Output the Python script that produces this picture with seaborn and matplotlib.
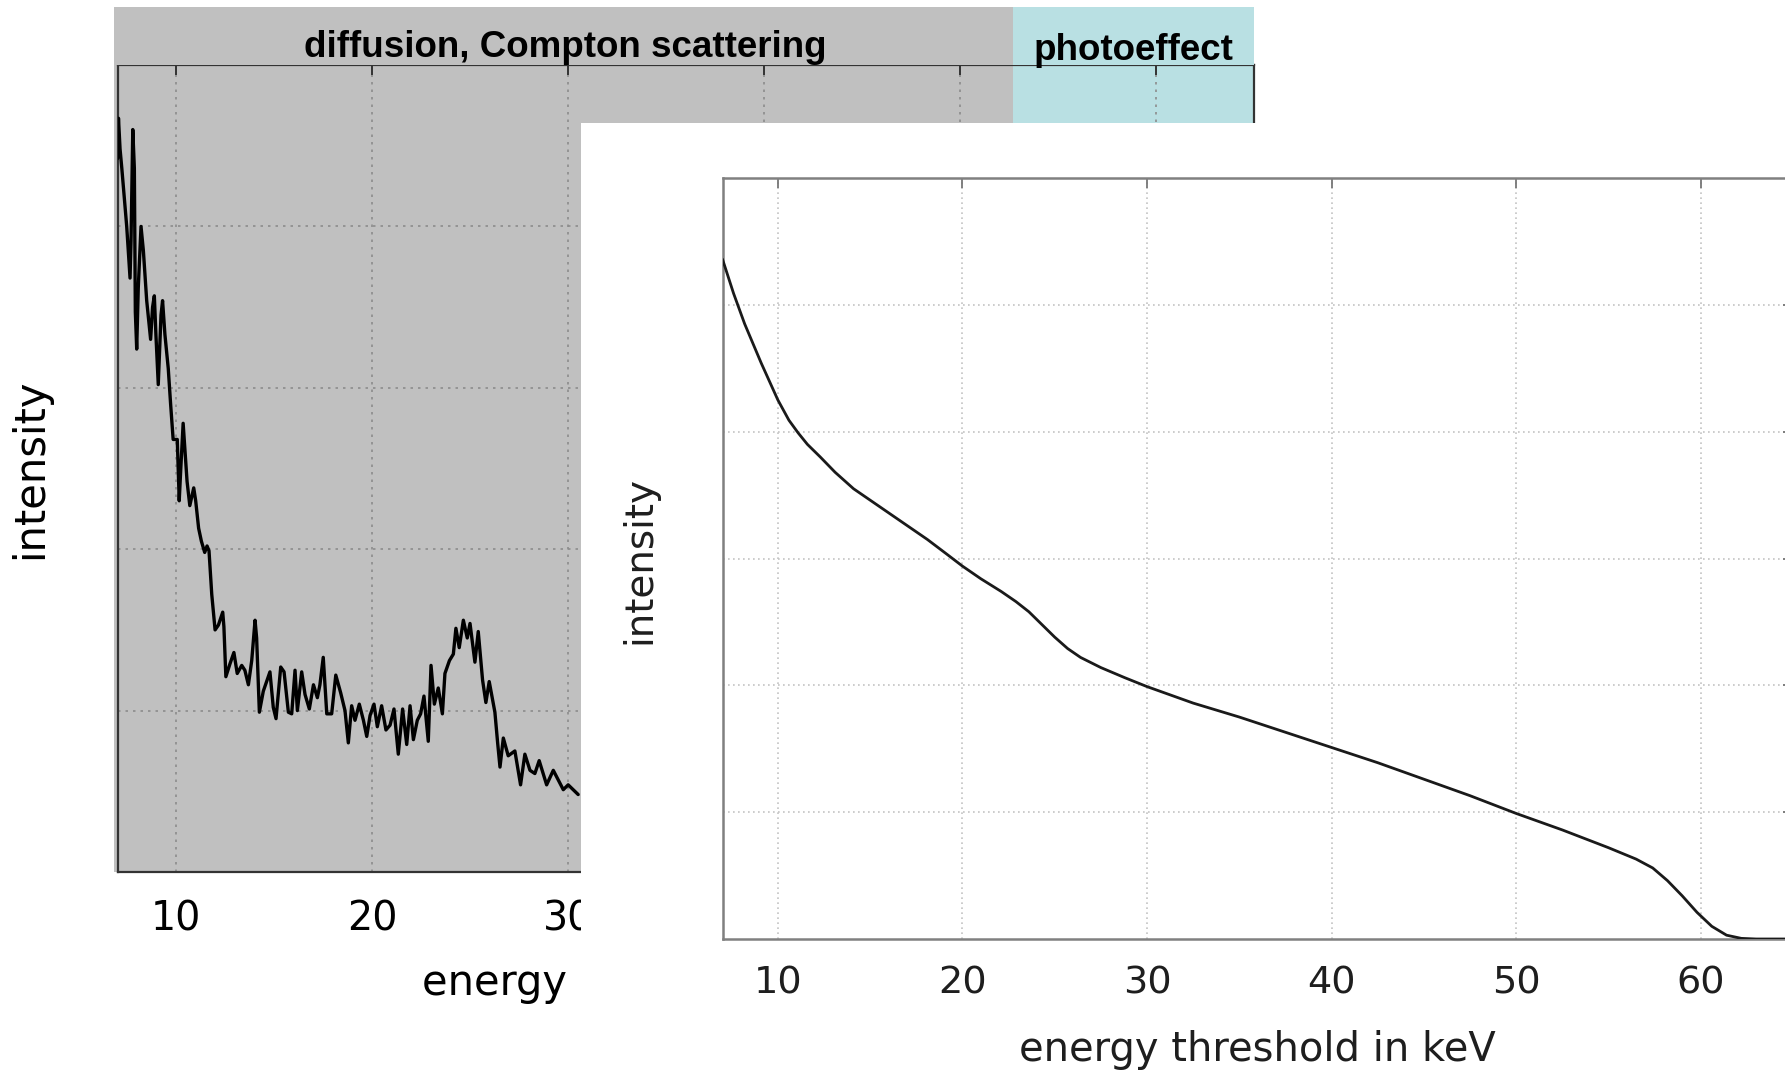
import matplotlib
matplotlib.use("Agg")
import matplotlib.pyplot as plt
import seaborn as sns

# ---------------- data ----------------
spectrum_energy = [7.00, 7.05, 7.13, 7.22, 7.47, 7.64, 7.69, 7.78, 7.86, 7.91,
                   7.98, 8.06, 8.20, 8.32, 8.49, 8.69, 8.79, 8.88, 8.96, 9.08,
                   9.22, 9.30, 9.42, 9.59, 9.71, 9.84, 10.05, 10.15, 10.23, 10.35,
                   10.47, 10.55, 10.69, 10.89, 10.99, 11.14, 11.28, 11.45, 11.57, 11.67,
                   11.74, 11.81, 11.98, 12.15, 12.37, 12.43, 12.53, 12.74, 12.94, 13.11,
                   13.34, 13.50, 13.68, 13.85, 14.02, 14.10, 14.24, 14.44, 14.78, 14.95,
                   15.09, 15.33, 15.50, 15.72, 15.89, 16.06, 16.18, 16.40, 16.57, 16.79,
                   17.00, 17.20, 17.33, 17.50, 17.68, 17.93, 18.14, 18.39, 18.61, 18.78,
                   18.95, 19.12, 19.34, 19.55, 19.72, 19.89, 20.09, 20.26, 20.48, 20.70,
                   20.91, 21.11, 21.33, 21.55, 21.76, 21.93, 22.10, 22.30, 22.47, 22.64,
                   22.86, 23.00, 23.17, 23.37, 23.58, 23.71, 23.94, 24.14, 24.27, 24.44,
                   24.65, 24.85, 24.99, 25.24, 25.41, 25.63, 25.80, 25.97, 26.26, 26.40,
                   26.52, 26.69, 26.94, 27.28, 27.57, 27.79, 28.05, 28.30, 28.52, 28.90,
                   29.24, 29.75, 30.00, 30.51]
spectrum_intensity = [4.42, 4.67, 4.48, 4.36, 4.00, 3.68, 3.91, 4.60, 4.36, 3.47,
                      3.24, 3.62, 4.00, 3.85, 3.54, 3.30, 3.50, 3.57, 3.33, 3.02,
                      3.45, 3.54, 3.33, 3.12, 2.90, 2.68, 2.68, 2.30, 2.50, 2.78,
                      2.56, 2.42, 2.27, 2.38, 2.30, 2.13, 2.05, 1.98, 2.02, 1.99,
                      1.85, 1.72, 1.50, 1.53, 1.61, 1.52, 1.21, 1.29, 1.36, 1.23,
                      1.28, 1.25, 1.16, 1.31, 1.56, 1.45, 0.99, 1.12, 1.24, 1.02,
                      0.95, 1.27, 1.24, 0.99, 0.98, 1.25, 1.00, 1.24, 1.10, 1.01,
                      1.16, 1.08, 1.16, 1.33, 0.98, 0.98, 1.22, 1.11, 1.00, 0.80,
                      1.03, 0.94, 1.04, 0.94, 0.84, 0.97, 1.04, 0.90, 1.03, 0.88,
                      0.91, 1.01, 0.73, 1.01, 0.79, 1.03, 0.82, 0.94, 0.98, 1.09,
                      0.81, 1.28, 1.04, 1.14, 0.98, 1.23, 1.31, 1.35, 1.51, 1.39,
                      1.56, 1.45, 1.54, 1.30, 1.49, 1.19, 1.05, 1.18, 0.99, 0.80,
                      0.65, 0.83, 0.72, 0.75, 0.54, 0.73, 0.63, 0.61, 0.69, 0.54,
                      0.63, 0.51, 0.54, 0.48]

threshold_energy = [7.0, 7.6, 8.2, 9.1, 10.0, 10.6, 11.1, 11.6, 12.3, 13.1,
                    14.1, 15.1, 16.1, 17.1, 18.1, 19.1, 20.0, 21.0, 22.1, 22.9,
                    23.6, 24.3, 25.0, 25.7, 26.4, 27.5, 28.8, 30.0, 32.5, 35.0,
                    37.5, 40.0, 42.5, 45.0, 47.5, 50.0, 52.5, 55.0, 56.5, 57.4,
                    58.2, 59.0, 59.8, 60.6, 61.4, 62.2, 63.0, 65.0]
threshold_intensity = [5.36, 5.09, 4.85, 4.54, 4.25, 4.09, 3.99, 3.90, 3.80, 3.68,
                       3.55, 3.45, 3.35, 3.25, 3.15, 3.04, 2.94, 2.84, 2.74, 2.66,
                       2.58, 2.48, 2.38, 2.29, 2.22, 2.14, 2.06, 1.99, 1.86, 1.75,
                       1.63, 1.51, 1.39, 1.26, 1.13, 0.99, 0.86, 0.72, 0.63, 0.56,
                       0.46, 0.34, 0.21, 0.10, 0.03, 0.005, 0.00, 0.00]

energy_ticks = [10, 20, 30, 40, 50, 60]
compton_range = (6.82, 52.7)
photo_range = (52.7, 65.0)
region_labels = ["diffusion, Compton scattering", "photoeffect"]

# ---------------- style ----------------
sns.set_theme(style="white")
plt.rcParams['font.family'] = ['DejaVu Sans']

W, H = 1785, 1074
fig = plt.figure(figsize=(W / 100, H / 100), dpi=100)
fig.patch.set_facecolor('white')

GRAY = '#c0c0c0'
CYAN = '#b9e0e3'

# ---------------- background spectrum ----------------
ax = fig.add_axes([117.5 / W, 1 - 872 / H, (1254 - 117.5) / W, (872 - 65) / H])
ax.set_facecolor(GRAY)
ax.axvspan(*compton_range, color=GRAY, lw=0, zorder=0.8, clip_on=False)
ax.axvspan(*photo_range, color=CYAN, lw=0, zorder=1)
sns.lineplot(x=spectrum_energy, y=spectrum_intensity, ax=ax, color='black',
             lw=2.4, estimator=None, sort=False, zorder=3)
ax.set_xlim(7, 65)
ax.set_ylim(0, 5)
ax.set_xticks(energy_ticks)
ax.set_yticks([1, 2, 3, 4])
ax.set_yticklabels([])
ax.tick_params(direction='in', length=7, width=1.4, color='#333333',
               top=True, right=True, labelsize=28.5, pad=20, labelcolor='black')
ax.grid(True, ls=(0, (1.5, 3)), color='#8c8c8c', lw=1.2)
ax.set_axisbelow('line')
for s in ax.spines.values():
    s.set_color('#333333')
    s.set_linewidth(1.6)
ax.set_xlabel('energy in keV', fontsize=30, color='black')
ax.xaxis.set_label_coords(0.394, -0.1115)
ax.set_ylabel('intensity', fontsize=30, color='black')
ax.yaxis.set_label_coords(-0.0585, 0.5)

# ---------------- header band ----------------
hdr = fig.add_axes([114 / W, 1 - 65 / H, (1254 - 114) / W, (65 - 7.3) / H])
hdr.set_xlim(compton_range[0], photo_range[1])
hdr.set_ylim(0, 1)
hdr.axvspan(*compton_range, color=GRAY, lw=0)
hdr.axvspan(*photo_range, color=CYAN, lw=0)
hdr.text(sum(compton_range) / 2 + 0.1, 0.139, region_labels[0], ha='center', va='baseline',
         fontsize=26.5, fontweight='bold', family=['Liberation Sans', 'DejaVu Sans'],
         color='black')
hdr.text(sum(photo_range) / 2, 0.087, region_labels[1], ha='center', va='baseline',
         fontsize=26.5, fontweight='bold', family=['Liberation Sans', 'DejaVu Sans'],
         color='black')
hdr.axis('off')

# ---------------- overlay panel ----------------
panel = fig.add_axes([580.5 / W, 0, 1 - 580.5 / W, (1074 - 122.7) / H])
panel.set_facecolor('white')
panel.set_xticks([])
panel.set_yticks([])
for s in panel.spines.values():
    s.set_visible(False)

ax2 = fig.add_axes([722.5 / W, 1 - 939 / H, (1793 - 722.5) / W, (939 - 178) / H])
ax2.set_facecolor('white')
sns.lineplot(x=threshold_energy, y=threshold_intensity, ax=ax2, color='#1a1a1a',
             lw=2.0, estimator=None, sort=False, zorder=3)
ax2.set_xlim(7, 65)
ax2.set_ylim(0, 6)
ax2.set_xticks(energy_ticks)
ax2.set_yticks([1, 2, 3, 4, 5])
ax2.set_yticklabels([])
ax2.tick_params(direction='in', length=7, width=1.3, color='#777777',
                top=True, right=True, labelsize=27.5, pad=19, labelcolor='#1e1e1e')
ax2.grid(True, ls=(0, (1, 2)), color='#c4c4c4', lw=1.2)
for s in ax2.spines.values():
    s.set_color('#808080')
    s.set_linewidth(1.8)
ax2.set_xlabel('energy threshold in keV', fontsize=28.8, color='#1e1e1e')
ax2.xaxis.set_label_coords(0.5, -0.12)
ax2.set_ylabel('intensity', fontsize=28, color='#1e1e1e')
ax2.yaxis.set_label_coords(-0.0603, 0.498)

fig.savefig('out.png', dpi=100)
